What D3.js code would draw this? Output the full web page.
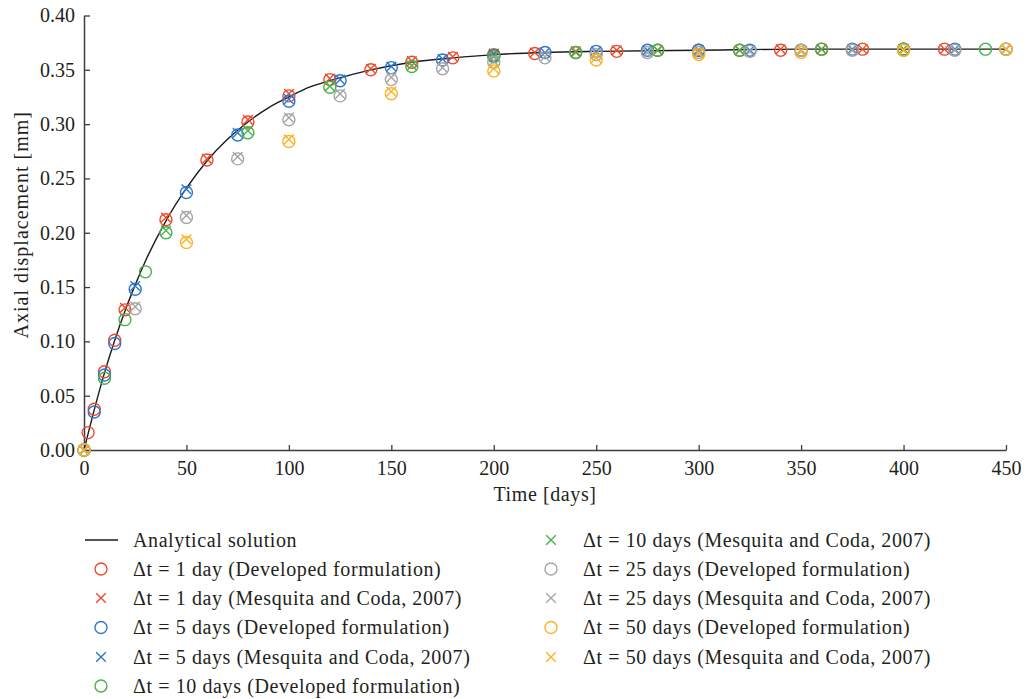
<!DOCTYPE html>
<html>
<head>
<meta charset="utf-8">
<script src="https://cdn.jsdelivr.net/npm/d3@7"></script>
<style>
  body { margin: 0; background: #fff; }
  text { font-family: "Liberation Serif", "DejaVu Serif", serif; fill: #231f20; }
</style>
</head>
<body>
<div id="chart"></div>
<script>
// Analytical solution
const analyticT = [0, 5, 10, 15, 20, 25, 30, 40, 50, 60, 70, 80, 90, 100, 110, 120, 140, 160, 180, 200, 225, 250, 300, 350, 400, 450];
const analyticU = [0, 0.037, 0.071, 0.101, 0.128, 0.152, 0.174, 0.211, 0.241, 0.266, 0.286, 0.302, 0.315, 0.325, 0.334, 0.340, 0.350, 0.357, 0.361, 0.364, 0.366, 0.367, 0.368, 0.369, 0.369, 0.369];

// Δt = 1 day
const dt1DevT = [0, 2, 5, 10, 15, 20, 40, 60, 80, 100, 120, 140, 160, 180, 200, 220, 240, 260, 280, 300, 320, 340, 360, 380, 400, 420];
const dt1DevU = [0, 0.016, 0.0375, 0.072, 0.101, 0.129, 0.212, 0.267, 0.302, 0.326, 0.341, 0.350, 0.357, 0.361, 0.364, 0.365, 0.366, 0.367, 0.368, 0.368, 0.368, 0.368, 0.369, 0.369, 0.369, 0.369];
const dt1MesT = [0, 20, 40, 60, 80, 100, 120, 140, 160, 180, 200, 220, 240, 260, 280, 300, 320, 340, 360, 380, 400, 420];
const dt1MesU = [0, 0.131, 0.214, 0.268, 0.304, 0.328, 0.342, 0.351, 0.358, 0.362, 0.365, 0.366, 0.367, 0.368, 0.368, 0.368, 0.368, 0.369, 0.369, 0.369, 0.369, 0.369];

// Δt = 5 days
const dt5DevT = [0, 5, 10, 15, 25, 50, 75, 100, 125, 150, 175, 200, 225, 250, 275, 300, 325, 350, 375, 400, 425, 450];
const dt5DevU = [0, 0.035, 0.069, 0.098, 0.148, 0.237, 0.290, 0.321, 0.340, 0.352, 0.359, 0.363, 0.366, 0.367, 0.368, 0.368, 0.368, 0.368, 0.369, 0.369, 0.369, 0.369];
const dt5MesT = [0, 25, 50, 75, 100, 125, 150, 175, 200, 225, 250, 275, 300, 325, 350, 375, 400, 425, 450];
const dt5MesU = [0, 0.151, 0.240, 0.292, 0.323, 0.341, 0.353, 0.360, 0.364, 0.366, 0.367, 0.368, 0.368, 0.368, 0.368, 0.369, 0.369, 0.369, 0.369];

// Δt = 10 days
const dt10DevT = [0, 10, 20, 30, 40, 80, 120, 160, 200, 240, 280, 320, 360, 400, 440];
const dt10DevU = [0, 0.066, 0.120, 0.164, 0.200, 0.292, 0.334, 0.353, 0.362, 0.366, 0.368, 0.368, 0.369, 0.369, 0.369];
const dt10MesT = [0, 40, 80, 120, 160, 200, 240, 280, 320, 360, 400];
const dt10MesU = [0, 0.202, 0.294, 0.335, 0.354, 0.362, 0.366, 0.368, 0.368, 0.369, 0.369];

// Δt = 25 days
const dt25DevT = [0, 25, 50, 75, 100, 125, 150, 175, 200, 225, 250, 275, 300, 325, 350, 375, 400, 425, 450];
const dt25DevU = [0, 0.130, 0.214, 0.268, 0.304, 0.326, 0.341, 0.351, 0.357, 0.361, 0.364, 0.366, 0.366, 0.367, 0.368, 0.368, 0.368, 0.368, 0.369];
const dt25MesU = [0, 0.132, 0.216, 0.270, 0.306, 0.328, 0.343, 0.352, 0.358, 0.362, 0.365, 0.366, 0.367, 0.367, 0.368, 0.368, 0.368, 0.368, 0.369];

// Δt = 50 days
const dt50T = [0, 50, 100, 150, 200, 250, 300, 350, 400, 450];
const dt50DevU = [0, 0.191, 0.284, 0.328, 0.349, 0.359, 0.364, 0.366, 0.368, 0.369];
const dt50MesU = [0, 0.194, 0.286, 0.330, 0.351, 0.361, 0.365, 0.367, 0.368, 0.369];

const xTicks = [0, 50, 100, 150, 200, 250, 300, 350, 400, 450];
const yTicks = [0, 0.05, 0.10, 0.15, 0.20, 0.25, 0.30, 0.35, 0.40];

const cores = { red: '#ee4a2c', blue: '#2d78cc', green: '#45b34a', gray: '#a5a5a5', yellow: '#fbb325' };

const series = [
    { label: 'Δt = 1 day (Developed formulation)', cor: cores.red, forma: 'o', t: dt1DevT, u: dt1DevU },
    { label: 'Δt = 1 day (Mesquita and Coda, 2007)', cor: cores.red, forma: 'x', t: dt1MesT, u: dt1MesU },
    { label: 'Δt = 5 days (Developed formulation)', cor: cores.blue, forma: 'o', t: dt5DevT, u: dt5DevU },
    { label: 'Δt = 5 days (Mesquita and Coda, 2007)', cor: cores.blue, forma: 'x', t: dt5MesT, u: dt5MesU },
    { label: 'Δt = 10 days (Developed formulation)', cor: cores.green, forma: 'o', t: dt10DevT, u: dt10DevU },
    { label: 'Δt = 10 days (Mesquita and Coda, 2007)', cor: cores.green, forma: 'x', t: dt10MesT, u: dt10MesU },
    { label: 'Δt = 25 days (Developed formulation)', cor: cores.gray, forma: 'o', t: dt25DevT, u: dt25DevU },
    { label: 'Δt = 25 days (Mesquita and Coda, 2007)', cor: cores.gray, forma: 'x', t: dt25DevT, u: dt25MesU },
    { label: 'Δt = 50 days (Developed formulation)', cor: cores.yellow, forma: 'o', t: dt50T, u: dt50DevU },
    { label: 'Δt = 50 days (Mesquita and Coda, 2007)', cor: cores.yellow, forma: 'x', t: dt50T, u: dt50MesU }
];

const largura = 1027, altura = 699;
const margem = { top: 15.5, right: 21, bottom: 249, left: 84 };
const fonte = 20;

const svg = d3.select('#chart')
    .append('svg')
    .attr('width', largura)
    .attr('height', altura)
    .attr('viewBox', '0 0 ' + largura + ' ' + altura);

const x = d3.scaleLinear().domain([0, 450]).range([margem.left, largura - margem.right]);
const y = d3.scaleLinear().domain([0, 0.40]).range([altura - margem.bottom, margem.top]);

// Eixos
const eixoX = svg.append('g')
    .attr('transform', `translate(0,${y(0)})`)
    .call(d3.axisBottom(x).tickValues(xTicks).tickSizeInner(-5).tickSizeOuter(0).tickPadding(11).tickFormat(d3.format('d')));
const eixoY = svg.append('g')
    .attr('transform', `translate(${x(0)},0)`)
    .call(d3.axisLeft(y).tickValues(yTicks).tickSizeInner(-6).tickSizeOuter(0).tickPadding(9).tickFormat(d3.format('.2f')));

[eixoX, eixoY].forEach(g => {
    g.select('.domain').attr('stroke', '#3c3c3c').attr('stroke-width', 1.5);
    g.selectAll('.tick line').attr('stroke', '#3c3c3c').attr('stroke-width', 1.3);
    g.selectAll('.tick text').attr('font-size', fonte).attr('font-family', '"Liberation Serif", serif').attr('fill', '#231f20');
});
eixoX.selectAll('.tick text').attr('dy', '0.71em');

svg.append('text')
    .attr('x', (x(0) + x(450)) / 2)
    .attr('y', 501)
    .attr('text-anchor', 'middle')
    .attr('font-size', fonte)
    .attr('letter-spacing', 0.6)
    .text('Time [days]');

svg.append('text')
    .attr('transform', `translate(28,${(y(0) + y(0.4)) / 2 - 8}) rotate(-90)`)
    .attr('text-anchor', 'middle')
    .attr('font-size', fonte)
    .attr('letter-spacing', 1)
    .text('Axial displacement [mm]');

// Solução analítica
const linha = d3.line()
    .x((d, i) => x(analyticT[i]))
    .y(d => y(d))
    .curve(d3.curveMonotoneX);

svg.append('path')
    .datum(analyticU)
    .attr('d', linha)
    .attr('fill', 'none')
    .attr('stroke', '#1a1a1a')
    .attr('stroke-width', 1.4);

// Desenha marcadores
const desenhaMarcador = (g, forma, cor, px, py) => {
    if (forma === 'o') {
        g.append('circle')
            .attr('cx', px).attr('cy', py).attr('r', 6)
            .attr('fill', 'none').attr('stroke', cor).attr('stroke-width', 1.4);
    } else {
        const s = 4.8;
        g.append('path')
            .attr('d', `M${px - s},${py - s}L${px + s},${py + s}M${px - s},${py + s}L${px + s},${py - s}`)
            .attr('fill', 'none').attr('stroke', cor).attr('stroke-width', 1.4);
    }
};

const pontos = svg.append('g').attr('class', 'pontos');
series.forEach(s => {
    const g = pontos.append('g');
    s.t.forEach((t, i) => desenhaMarcador(g, s.forma, s.cor, x(t), y(s.u[i])));
});

// Legenda
const legenda = svg.append('g').attr('class', 'legenda');
const linhasY = [540, 569, 598, 627.5, 657, 686];
const itens = [{ label: 'Analytical solution', forma: 'line' }].concat(series);
itens.forEach((item, i) => {
    const col = i < 6 ? 0 : 1;
    const row = i < 6 ? i : i - 6;
    const mx = col === 0 ? 101 : 551;
    const ly = linhasY[row];
    if (item.forma === 'line') {
        legenda.append('line')
            .attr('x1', 85).attr('x2', 118).attr('y1', ly).attr('y2', ly)
            .attr('stroke', '#1a1a1a').attr('stroke-width', 1.4);
    } else {
        desenhaMarcador(legenda, item.forma, item.cor, mx, ly);
    }
    legenda.append('text')
        .attr('x', mx + 32)
        .attr('y', ly)
        .attr('dy', '0.33em')
        .attr('font-size', fonte)
        .attr('letter-spacing', 0.6)
        .text(item.label);
});
</script>
</body>
</html>
